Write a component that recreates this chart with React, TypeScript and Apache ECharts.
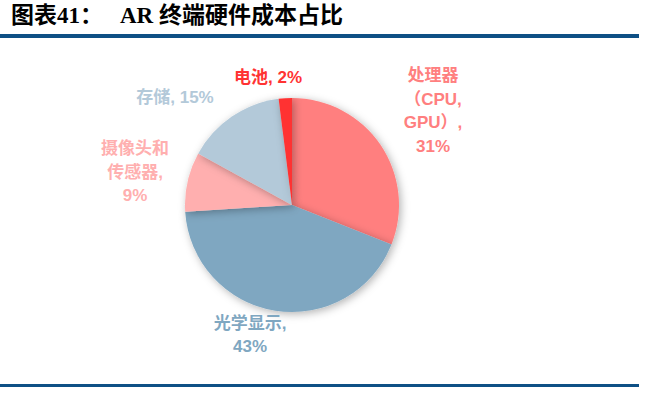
import React, { useEffect, useRef } from "react";
import * as echarts from "echarts";

const categories = ["处理器（CPU，GPU）", "光学显示", "摄像头和传感器", "存储", "电池"];
const values = [31, 43, 9, 15, 2];
const labelTexts = [
  "处理器\n（CPU,\nGPU）,\n31%",
  "光学显示,\n43%",
  "摄像头和\n传感器,\n9%",
  "存储, 15%",
  "电池, 2%",
];
const colors = ["#FF7F7F", "#7FA7C1", "#FFAFAF", "#B3C9D9", "#FF3333"];
const labelPos = [
  [433, 111],
  [250, 335],
  [135, 172],
  [175, 97],
  [268, 77],
];
const titleLeft = "图表41：";
const titleRight = "AR 终端硬件成本占比";

export default function App() {
  const ref = useRef<HTMLDivElement>(null);
  useEffect(() => {
    const chart = echarts.init(ref.current!, null, { renderer: "svg" });
    const titleFont = "bold 23px 'Liberation Serif', 'Noto Sans CJK SC'";
    chart.setOption({
      animation: false,
      backgroundColor: "#ffffff",
      graphic: [
        {
          type: "text",
          left: 11,
          top: 4,
          style: { text: titleLeft, font: titleFont, fill: "#000000" },
        },
        {
          type: "text",
          left: 120,
          top: 4,
          style: { text: titleRight, font: titleFont, fill: "#000000" },
        },
        { type: "rect", shape: { x: 0, y: 34, width: 639, height: 4 }, style: { fill: "#0E5085" } },
        { type: "rect", shape: { x: 0, y: 384, width: 639, height: 3 }, style: { fill: "#0E5085" } },
      ],
      series: [
        {
          type: "pie",
          center: [292, 205],
          radius: [0, 107],
          startAngle: 90,
          clockwise: true,
          data: categories.map((c, i) => ({
            name: c,
            value: values[i],
            itemStyle: { color: colors[i] },
            label: {
              color: colors[i],
              formatter: labelTexts[i],
            },
          })),
          itemStyle: {
            shadowBlur: 8,
            shadowOffsetX: 2,
            shadowOffsetY: 2,
            shadowColor: "rgba(0,0,0,0.3)",
          },
          label: {
            show: true,
            position: "outside",
            fontSize: 17,
            fontWeight: "bold",
            fontFamily: "'Liberation Sans', 'Noto Sans CJK SC'",
            lineHeight: 23.5,
            align: "center",
          },
          labelLine: { show: false },
          labelLayout: (p: any) => ({
            x: labelPos[p.dataIndex][0],
            y: labelPos[p.dataIndex][1],
            align: "center",
            verticalAlign: "middle",
          }),
        },
      ],
    });
    return () => chart.dispose();
  }, []);
  return (
    <div
      ref={ref}
      style={{ position: "fixed", left: 0, top: 0, width: 645, height: 393 }}
    />
  );
}
